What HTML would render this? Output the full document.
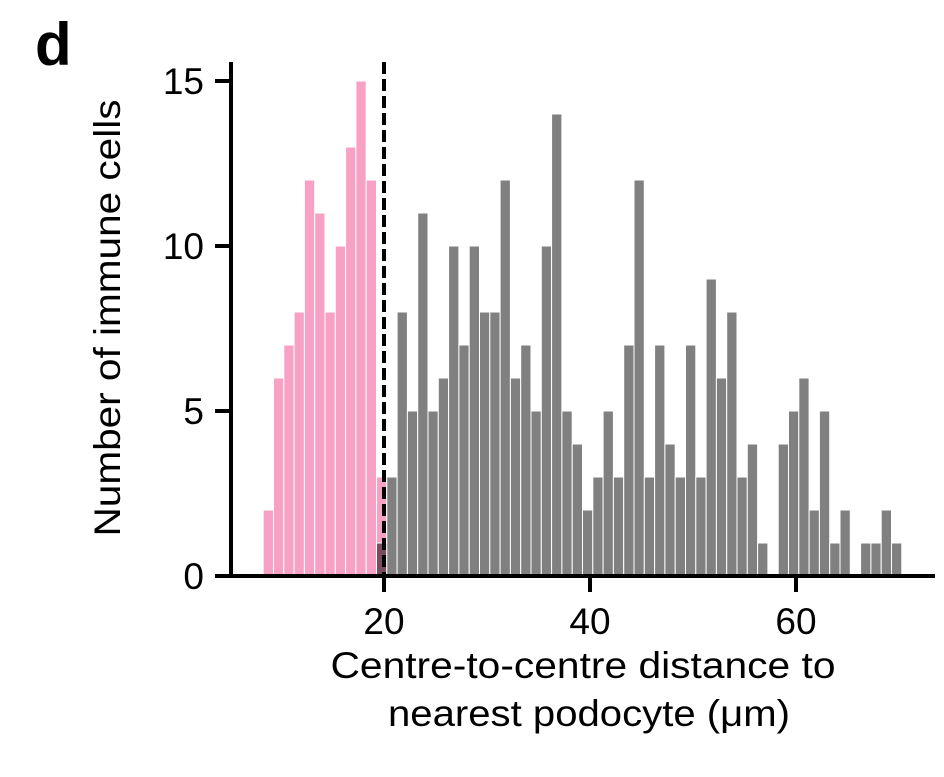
<!DOCTYPE html>
<html><head><meta charset="utf-8"><style>
html,body{margin:0;padding:0;background:#fff;}
svg{display:block;font-family:"Liberation Sans",Arial,sans-serif;}
</style></head><body>
<svg width="944" height="777" viewBox="0 0 944 777" xmlns="http://www.w3.org/2000/svg">
<text x="35" y="65" font-size="60" font-weight="bold">d</text>
<g stroke="#fff" stroke-width="1">
<rect x="263.2" y="510" width="10.3" height="66" fill="#f7a1c5"/>
<rect x="273.5" y="378" width="10.3" height="198" fill="#f7a1c5"/>
<rect x="283.8" y="345" width="10.3" height="231" fill="#f7a1c5"/>
<rect x="294.1" y="312" width="10.3" height="264" fill="#f7a1c5"/>
<rect x="304.4" y="180" width="10.3" height="396" fill="#f7a1c5"/>
<rect x="314.7" y="213" width="10.3" height="363" fill="#f7a1c5"/>
<rect x="325.0" y="312" width="10.3" height="264" fill="#f7a1c5"/>
<rect x="335.3" y="246" width="10.3" height="330" fill="#f7a1c5"/>
<rect x="345.6" y="147" width="10.3" height="429" fill="#f7a1c5"/>
<rect x="355.9" y="81" width="10.3" height="495" fill="#f7a1c5"/>
<rect x="366.2" y="180" width="10.3" height="396" fill="#f7a1c5"/>
<rect x="376.5" y="477" width="10.3" height="99" fill="#f7a1c5"/>
<rect x="376.5" y="543" width="10.3" height="33" fill="#7a4d5e"/>
<g fill="#808080">
<rect x="386.8" y="477" width="10.3" height="99"/>
<rect x="397.1" y="312" width="10.3" height="264"/>
<rect x="407.4" y="411" width="10.3" height="165"/>
<rect x="417.7" y="213" width="10.3" height="363"/>
<rect x="428.0" y="411" width="10.3" height="165"/>
<rect x="438.3" y="378" width="10.3" height="198"/>
<rect x="448.6" y="246" width="10.3" height="330"/>
<rect x="458.9" y="345" width="10.3" height="231"/>
<rect x="469.2" y="246" width="10.3" height="330"/>
<rect x="479.5" y="312" width="10.3" height="264"/>
<rect x="489.8" y="312" width="10.3" height="264"/>
<rect x="500.1" y="180" width="10.3" height="396"/>
<rect x="510.4" y="378" width="10.3" height="198"/>
<rect x="520.7" y="345" width="10.3" height="231"/>
<rect x="531.0" y="411" width="10.3" height="165"/>
<rect x="541.3" y="246" width="10.3" height="330"/>
<rect x="551.6" y="114" width="10.3" height="462"/>
<rect x="561.9" y="411" width="10.3" height="165"/>
<rect x="572.2" y="444" width="10.3" height="132"/>
<rect x="582.5" y="510" width="10.3" height="66"/>
<rect x="592.8" y="477" width="10.3" height="99"/>
<rect x="603.1" y="411" width="10.3" height="165"/>
<rect x="613.4" y="477" width="10.3" height="99"/>
<rect x="623.7" y="345" width="10.3" height="231"/>
<rect x="634.0" y="180" width="10.3" height="396"/>
<rect x="644.3" y="477" width="10.3" height="99"/>
<rect x="654.6" y="345" width="10.3" height="231"/>
<rect x="664.9" y="444" width="10.3" height="132"/>
<rect x="675.2" y="477" width="10.3" height="99"/>
<rect x="685.5" y="345" width="10.3" height="231"/>
<rect x="695.8" y="477" width="10.3" height="99"/>
<rect x="706.1" y="279" width="10.3" height="297"/>
<rect x="716.4" y="378" width="10.3" height="198"/>
<rect x="726.7" y="312" width="10.3" height="264"/>
<rect x="737.0" y="477" width="10.3" height="99"/>
<rect x="747.3" y="444" width="10.3" height="132"/>
<rect x="757.6" y="543" width="10.3" height="33"/>
<rect x="778.2" y="444" width="10.3" height="132"/>
<rect x="788.5" y="411" width="10.3" height="165"/>
<rect x="798.8" y="378" width="10.3" height="198"/>
<rect x="809.1" y="510" width="10.3" height="66"/>
<rect x="819.4" y="411" width="10.3" height="165"/>
<rect x="829.7" y="543" width="10.3" height="33"/>
<rect x="840.0" y="510" width="10.3" height="66"/>
<rect x="860.6" y="543" width="10.3" height="33"/>
<rect x="870.9" y="543" width="10.3" height="33"/>
<rect x="881.2" y="510" width="10.3" height="66"/>
<rect x="891.5" y="543" width="10.3" height="33"/>
</g>
</g>
<line x1="384" y1="62" x2="384" y2="576" stroke="#000" stroke-width="4" stroke-dasharray="12,5"/>
<g stroke="#000" stroke-width="4" fill="none">
<line x1="231" y1="62" x2="231" y2="578"/>
<line x1="229" y1="576" x2="935" y2="576"/>
<line x1="215" y1="81" x2="231" y2="81"/>
<line x1="215" y1="246" x2="231" y2="246"/>
<line x1="215" y1="411" x2="231" y2="411"/>
<line x1="215" y1="576" x2="231" y2="576"/>
<line x1="384" y1="576" x2="384" y2="592"/>
<line x1="590" y1="576" x2="590" y2="592"/>
<line x1="796" y1="576" x2="796" y2="592"/>
</g>
<g font-size="37" text-anchor="end">
<text x="204" y="94">15</text>
<text x="204" y="259">10</text>
<text x="204" y="424">5</text>
<text x="204" y="589">0</text>
</g>
<g font-size="37" text-anchor="middle">
<text x="384" y="634">20</text>
<text x="590" y="634">40</text>
<text x="796" y="634">60</text>
<text x="583" y="678" textLength="505" lengthAdjust="spacingAndGlyphs">Centre-to-centre distance to</text>
<text x="589" y="726" textLength="402" lengthAdjust="spacingAndGlyphs">nearest podocyte (μm)</text>
<text transform="translate(120,318) rotate(-90)" textLength="437" lengthAdjust="spacingAndGlyphs">Number of immune cells</text>
</g>
</svg>
</body></html>
